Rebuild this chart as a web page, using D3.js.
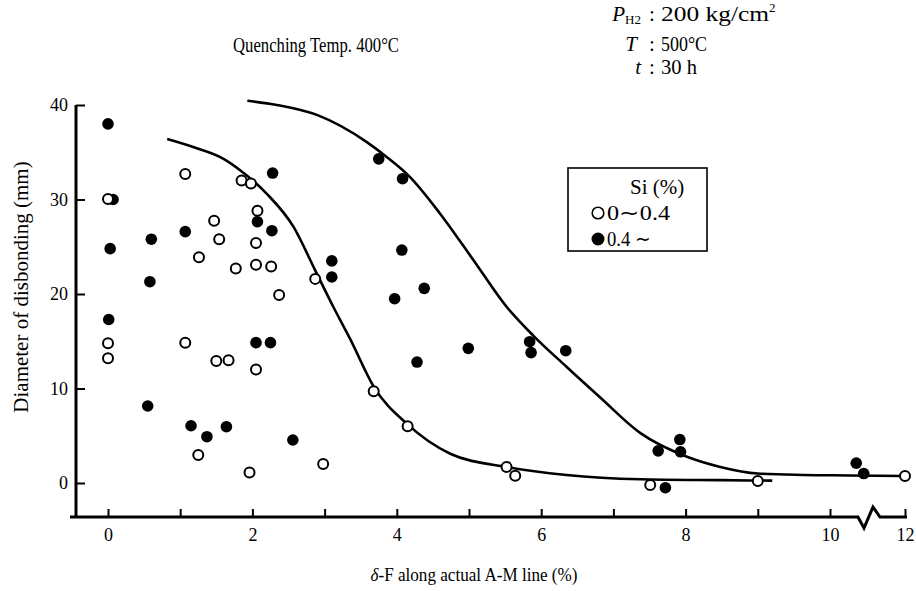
<!DOCTYPE html>
<html><head><meta charset="utf-8">
<script src="https://cdn.jsdelivr.net/npm/d3@7/dist/d3.min.js"></script>
<style>
html,body{margin:0;padding:0;background:#fff;}
text{font-family:"Liberation Serif","Times New Roman",serif;fill:#000;}
</style></head>
<body>
<svg id="chart" width="916" height="591"></svg>
<script>
// ---- data ----
const openX = [0, 0, 0, 1.07, 1.85, 1.98, 2.07, 1.47, 1.54, 2.05, 1.26, 1.77, 2.05, 2.26, 2.37, 2.87, 1.07, 1.5, 1.67, 2.05, 1.25, 1.96, 2.98, 3.68, 4.15, 5.52, 5.64, 7.51, 9.0, 12];
const openY = [30.05, 14.8, 13.2, 32.7, 32.0, 31.7, 28.8, 27.75, 25.8, 25.4, 23.9, 22.7, 23.1, 22.9, 19.9, 21.6, 14.85, 12.9, 13.0, 12.0, 2.96, 1.1, 2.0, 9.7, 6.0, 1.7, 0.77, -0.2, 0.2, 0.74];
const filledX = [0, 0.07, 0.03, 0.01, 0.6, 0.58, 0.55, 1.07, 1.15, 1.37, 1.64, 2.28, 2.07, 2.27, 2.05, 2.25, 2.56, 3.1, 3.1, 3.75, 4.08, 4.07, 3.97, 4.38, 4.28, 4.99, 5.84, 5.86, 6.34, 7.62, 7.92, 7.93, 7.72, 10.7, 10.9];
const filledY = [38, 30, 24.8, 17.3, 25.8, 21.3, 8.15, 26.6, 6.06, 4.9, 5.96, 32.8, 27.65, 26.7, 14.85, 14.85, 4.55, 23.5, 21.8, 34.3, 32.2, 24.65, 19.5, 20.6, 12.8, 14.25, 14.95, 13.8, 14.0, 3.4, 4.6, 3.3, -0.5, 2.1, 1.0];
const lowerCurveX = [0.82, 1.2, 1.6, 1.83, 2.2, 2.57, 2.87, 3.12, 3.35, 3.68, 4.15, 4.74, 5.52, 6.35, 7.37, 8.5, 9.2];
const lowerCurveY = [36.4, 35.5, 34.3, 33.1, 30.6, 27.1, 22.5, 18.65, 15.3, 10.2, 6.2, 3.1, 1.7, 0.85, 0.4, 0.3, 0.25];
const upperCurveX = [1.93, 2.34, 2.91, 3.58, 3.86, 4.18, 4.6, 5.06, 5.52, 5.89, 6.35, 6.81, 7.37, 8.01, 8.48, 9.0, 9.63, 10.5, 12];
const upperCurveY = [40.45, 40.0, 38.9, 36.1, 34.5, 32.4, 28.5, 23.6, 18.65, 15.6, 12.3, 9.1, 5.3, 2.8, 1.7, 1.0, 0.85, 0.8, 0.74];
const xTicks = [0, 1, 2, 3, 4, 5, 6, 7, 8, 9, 10, 12];
const xTickLabels = ["0", "", "2", "", "4", "", "6", "", "8", "", "10", "12"];
const yTicks = [0, 10, 20, 30, 40];
const legendTitle = "Si (%)";
const legendLabels = ["0\u223C0.4", "0.4 \u223C"];

// ---- scales ----
const svg = d3.select("#chart");
const x = d3.scaleLinear().domain([0, 10, 12]).range([108, 830, 905]);
const y = d3.scaleLinear().domain([0, 40]).range([483, 105]);
const axisY = 517, axisX = 76;

// x axis
const xAxis = d3.axisBottom(x).tickValues(xTicks)
  .tickFormat((d, i) => xTickLabels[i]).tickSize(-8).tickPadding(11);
const gx = svg.append("g").attr("transform", `translate(0,${axisY})`).call(xAxis);
gx.select(".domain").remove();
gx.selectAll(".tick line").attr("stroke", "#000").attr("stroke-width", 2);
gx.selectAll(".tick text").attr("font-size", 18).attr("font-family", "Liberation Serif");

// y axis
const yAxis = d3.axisLeft(y).tickValues(yTicks).tickSize(-9).tickPadding(8);
const gy = svg.append("g").attr("transform", `translate(${axisX},0)`).call(yAxis);
gy.select(".domain").remove();
gy.selectAll(".tick line").attr("stroke", "#000").attr("stroke-width", 2);
gy.selectAll(".tick text").attr("font-size", 18).attr("font-family", "Liberation Serif");

// axis lines (with break)
svg.append("path")
  .attr("d", `M${axisX},${y(40)} L${axisX},${axisY} M70,${axisY} L858,${axisY} L864,528 L873,507 L880,${axisY} L907,${axisY}`)
  .attr("fill", "none").attr("stroke", "#000").attr("stroke-width", 3).attr("stroke-linejoin", "miter");

// curves
const line = d3.line().x(d => x(d[0])).y(d => y(d[1])).curve(d3.curveMonotoneX);
svg.append("path").datum(lowerCurveX.map((v, i) => [v, lowerCurveY[i]]))
  .attr("d", line).attr("fill", "none").attr("stroke", "#000").attr("stroke-width", 2.6);
svg.append("path").datum(upperCurveX.map((v, i) => [v, upperCurveY[i]]))
  .attr("d", line).attr("fill", "none").attr("stroke", "#000").attr("stroke-width", 2.6);

// points
svg.append("g").selectAll("circle").data(filledX.map((v, i) => [v, filledY[i]])).join("circle")
  .attr("cx", d => x(d[0])).attr("cy", d => y(d[1])).attr("r", 5.8).attr("fill", "#000");
svg.append("g").selectAll("circle").data(openX.map((v, i) => [v, openY[i]])).join("circle")
  .attr("cx", d => x(d[0])).attr("cy", d => y(d[1])).attr("r", 5).attr("fill", "#fff")
  .attr("stroke", "#000").attr("stroke-width", 2);

// axis titles
svg.append("text").attr("x", 474).attr("y", 581).attr("text-anchor", "middle").attr("font-size", 19)
  .attr("textLength", 207).attr("lengthAdjust", "spacingAndGlyphs")
  .html('<tspan font-style="italic">δ</tspan>-F along actual A-M line (%)');
svg.append("text").attr("transform", "translate(28,287) rotate(-90)").attr("text-anchor", "middle")
  .attr("font-size", 21).text("Diameter of disbonding (mm)");

// top annotations
svg.append("text").attr("x", 233).attr("y", 52).attr("font-size", 20)
  .attr("textLength", 166).attr("lengthAdjust", "spacingAndGlyphs").text("Quenching  Temp. 400°C");

const annRows = [
  {y: 21, value: "200 kg/cm", sup: "2", vlen: 108},
  {y: 51, value: "500°C", vlen: 46},
  {y: 74, value: "30 h", vlen: 36}
];
const pl = svg.append("text").attr("x", 641).attr("y", 21).attr("font-size", 21).attr("text-anchor", "end");
pl.append("tspan").attr("font-style", "italic").text("P");
pl.append("tspan").attr("font-size", 13).attr("dy", 3).text("H2");
svg.append("text").attr("x", 637).attr("y", 51).attr("font-size", 21).attr("text-anchor", "end")
  .attr("font-style", "italic").text("T");
svg.append("text").attr("x", 641).attr("y", 74).attr("font-size", 21).attr("text-anchor", "end")
  .attr("font-style", "italic").text("t");
annRows.forEach(r => {
  svg.append("text").attr("x", 652).attr("y", r.y).attr("font-size", 21).attr("text-anchor", "middle").text(":");
  const t = svg.append("text").attr("x", 661).attr("y", r.y).attr("font-size", 21);
  t.append("tspan").attr("textLength", r.vlen).attr("lengthAdjust", "spacingAndGlyphs").text(r.value);
  if (r.sup) t.append("tspan").attr("font-size", 13).attr("dy", -9).text(r.sup);
});

// legend
const lg = svg.append("g");
lg.append("rect").attr("x", 568).attr("y", 168).attr("width", 139).attr("height", 83)
  .attr("fill", "#fff").attr("stroke", "#000").attr("stroke-width", 1.6);
lg.append("text").attr("x", 630).attr("y", 194).attr("font-size", 21).text(legendTitle);
lg.append("circle").attr("cx", 598).attr("cy", 213).attr("r", 5.8).attr("fill", "#fff").attr("stroke", "#000").attr("stroke-width", 1.6);
lg.append("circle").attr("cx", 598).attr("cy", 239).attr("r", 6.5).attr("fill", "#000");
lg.append("text").attr("x", 607).attr("y", 220).attr("font-size", 21)
  .attr("textLength", 63).attr("lengthAdjust", "spacingAndGlyphs").text(legendLabels[0]);
lg.append("text").attr("x", 607).attr("y", 246).attr("font-size", 21)
  .attr("textLength", 44).attr("lengthAdjust", "spacingAndGlyphs").text(legendLabels[1]);
</script>
</body></html>
